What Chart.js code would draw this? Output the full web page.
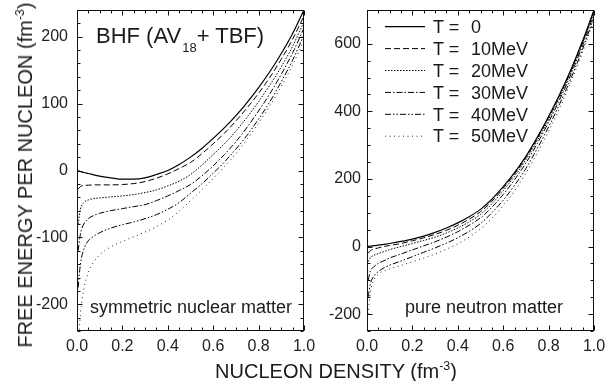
<!DOCTYPE html>
<html><head><meta charset="utf-8">
<script src="https://cdn.jsdelivr.net/npm/chart.js@4"></script>
<style>
html,body{margin:0;padding:0;background:#fff;}
#wrap{position:relative;width:606px;height:381px;overflow:hidden;font-family:"Liberation Sans",Arial,Helvetica,sans-serif;color:#1a1a1a;}
.cv{position:absolute;top:0;}
.t{position:absolute;white-space:nowrap;line-height:1;}
.sup{position:relative;font-size:0.62em;top:-0.62em;}
</style></head><body>
<div id="wrap">
<canvas id="c1" class="cv" style="left:0;width:322px;height:381px" width="322" height="381"></canvas>
<canvas id="c2" class="cv" style="left:309px;width:297px;height:381px" width="297" height="381"></canvas>
<div class="t" id="ytitle" style="font-size:20px;left:25px;top:175px;transform:translate(-50%,-50%) rotate(-90deg);">FREE ENERGY PER NUCLEON (fm<span class="sup">-3</span>)</div>
<div class="t" id="xtitle" style="font-size:20px;left:336px;top:361px;transform:translateX(-50%);">NUCLEON DENSITY (fm<span class="sup">-3</span>)</div>
<div class="t" style="font-size:22px;left:96px;top:24.5px;">BHF (AV<span style="position:relative;font-size:13px;top:9px;margin-left:1px;">18</span>+ TBF)</div>
<div class="t" style="font-size:18px;left:90px;top:298px;">symmetric nuclear matter</div>
<div class="t" style="font-size:18px;left:405px;top:298px;">pure neutron matter</div>
</div>
<script>
// ---- data ----
const density = [0, 0.005, 0.015, 0.03, 0.05, 0.075, 0.1, 0.15, 0.2, 0.25, 0.3, 0.35, 0.4, 0.45, 0.5, 0.55, 0.6, 0.65, 0.7, 0.75, 0.8, 0.85, 0.9, 0.95, 1.0];
const tempLabels = ["0", "10MeV", "20MeV", "30MeV", "40MeV", "50MeV"];

// symmetric nuclear matter
const symT0  = [0, -0.5, -1.5, -3, -4.5, -6.5, -8.5, -11, -13, -13, -11, -6, 0, 9, 20, 33, 48, 64, 82, 102, 124, 148, 175, 205, 240];
const symT10 = [null, -28, -24, -22.5, -22, -21.5, -21.5, -21.5, -21, -19.5, -16.5, -11.5, -5, 3, 12, 25, 40, 56, 74, 94, 115.5, 139.5, 166.5, 196.5, 231];
const symT20 = [null, -80, -58, -48, -44, -42, -41, -39.5, -38, -36, -33, -29, -23, -16, -6, 8, 24, 40, 59, 80, 103, 128, 155, 186, 222];
const symT30 = [null, -120, -95, -80, -72, -67, -64, -60, -57, -54, -51, -45, -38, -30, -21, -8, 7, 24, 43, 65, 89, 115, 144, 176, 213];
const symT40 = [null, -175, -140, -118, -105, -98, -93, -86, -81, -77, -72, -66, -58, -48, -34, -20, -4, 13, 32, 53, 77, 103, 133, 165, 203];
const symT50 = [null, -265, -215, -178, -152, -136, -126, -114, -106, -99, -92, -84, -74, -61, -45, -29, -12, 6, 25, 47, 71, 97, 126, 158, 195];

// pure neutron matter
const neuT0  = [0, 0.4, 1.2, 2.4, 4, 6.5, 9, 15, 22, 31, 42, 55, 70, 88, 110, 140, 177, 219, 267, 323, 385, 452, 526, 609, 700];
const neuT10 = [null, -20, -12, -8, -4, 0, 3, 9, 17, 26, 36, 48, 63, 81, 103, 134, 172, 214.5, 263, 319.5, 382, 449, 523, 606.5, 698];
const neuT20 = [null, -45, -33, -26, -21, -15, -9, 0, 9, 18, 28, 40, 55, 73, 95, 126.5, 165, 208, 257, 313.5, 376, 444, 519, 602.5, 694];
const neuT30 = [null, -100, -72, -60, -50, -42, -34, -22, -10, 2, 14, 28, 44, 63, 85, 116, 154, 197.5, 247, 304.5, 368, 436.5, 512, 596, 688];
const neuT40 = [null, -150, -110, -88, -74, -63, -55, -43, -30, -17, -4, 10, 26, 45, 68, 100, 137, 181, 231, 290, 354, 424, 500, 585, 679];
const neuT50 = [null, -200, -135, -100, -82, -72, -66, -56, -45, -34, -22, -8, 8, 28, 52, 83, 121, 165, 217, 276, 341, 412, 490, 576, 670];

// axes / ticks
const xTicks = [0, 0.2, 0.4, 0.6, 0.8, 1.0];
const symYTicks = [-200, -100, 0, 100, 200];
const neuYTicks = [-200, 0, 200, 400, 600];

// ---- styles ----
const FONT = '"Liberation Sans", Arial, Helvetica, sans-serif';
const lineStyles = [
  {dash: [], width: 1.2, color: '#000'},
  {dash: [6, 3], width: 1, color: '#000'},
  {dash: [1.5, 1.5], width: 1, color: '#000'},
  {dash: [6, 2, 1.5, 2], width: 1, color: '#000'},
  {dash: [6, 2, 1.5, 2, 1.5, 2], width: 1, color: '#000'},
  {dash: [1, 3.5], width: 1, color: '#222'}
];

function makeDatasets(series) {
  return series.map((vals, i) => ({
    label: 'T = ' + tempLabels[i],
    data: density.map((d, j) => ({x: d, y: vals[j]})),
    borderColor: lineStyles[i].color,
    borderWidth: lineStyles[i].width,
    borderDash: lineStyles[i].dash,
    pointRadius: 0,
    fill: false,
    cubicInterpolationMode: 'monotone',
    spanGaps: false
  }));
}

function framePlugin(yMinorStep, legend) {
  return {
    id: 'frame',
    afterDatasetsDraw(chart) {
      const {ctx, chartArea: a, scales: {x, y}} = chart;
      ctx.save();
      ctx.strokeStyle = '#111';
      ctx.lineWidth = 1;
      ctx.setLineDash([]);
      const L = Math.round(a.left) + 0.5, R = Math.round(a.right) - 0.5;
      const T = Math.round(a.top) + 0.5, B = Math.round(a.bottom) - 0.5;
      ctx.strokeRect(L, T, R - L, B - T);
      const seg = (x1, y1, x2, y2) => { ctx.beginPath(); ctx.moveTo(x1, y1); ctx.lineTo(x2, y2); ctx.stroke(); };
      for (let k = 0; k <= 20; k++) {
        const v = k * 0.05;
        const isMajor = xTicks.some(t => Math.abs(t - v) < 1e-9);
        const len = isMajor ? 5 : 3;
        const px = Math.round(x.getPixelForValue(v)) + 0.5;
        seg(px, B, px, B - len);
        seg(px, T, px, T + len);
      }
      const yt = chart.options.scales.y.majorTicks;
      const kMin = Math.ceil(y.min / yMinorStep), kMax = Math.floor(y.max / yMinorStep);
      for (let k = kMin; k <= kMax; k++) {
        const v = k * yMinorStep;
        const isMajor = yt.includes(v);
        const len = isMajor ? 5 : 3;
        const py = Math.round(y.getPixelForValue(v)) + 0.5;
        seg(L, py, L + len, py);
        seg(R, py, R - len, py);
      }
      if (legend) {
        chart.data.datasets.forEach((ds, i) => {
          const yy = legend.y0 + i * legend.dy;
          ctx.strokeStyle = ds.borderColor;
          ctx.lineWidth = ds.borderWidth;
          ctx.setLineDash(ds.borderDash);
          seg(legend.x1, yy, legend.x2, yy);
        });
      }
      ctx.restore();
    }
  };
}

function makeChart(id, series, yMin, yMax, yTicks, yMinorStep, yWidth, padRight, yPad, legend) {
  return new Chart(document.getElementById(id), {
    type: 'line',
    data: {datasets: makeDatasets(series)},
    options: {
      responsive: false, animation: false, devicePixelRatio: 1,
      layout: {padding: {top: 10, right: padRight, bottom: 0, left: 0}},
      plugins: {legend: {display: false}, tooltip: {enabled: false}},
      elements: {line: {tension: 0}},
      scales: {
        x: {
          type: 'linear', min: 0, max: 1,
          grid: {display: false, drawTicks: false}, border: {display: false},
          afterBuildTicks: s => { s.ticks = xTicks.map(v => ({value: v})); },
          afterFit: s => { s.height = 50; s.paddingLeft = 0; s.paddingRight = 0; },
          ticks: {font: {family: FONT, size: 16}, color: '#222', padding: 6, maxRotation: 0, autoSkip: false,
                  callback: v => Number(v).toFixed(1)}
        },
        y: {
          type: 'linear', min: yMin, max: yMax, majorTicks: yTicks,
          grid: {display: false, drawTicks: false}, border: {display: false},
          afterBuildTicks: s => { s.ticks = yTicks.map(v => ({value: v})); },
          afterFit: s => { s.width = yWidth; s.paddingTop = 0; s.paddingBottom = 0; },
          ticks: {font: {family: FONT, size: 16}, color: '#222', padding: yPad, autoSkip: false,
                  callback: v => String(v)}
        }
      }
    },
    plugins: [framePlugin(yMinorStep, legend)]
  });
}

makeChart('c1', [symT0, symT10, symT20, symT30, symT40, symT50], -240, 240, symYTicks, 20, 77, 18, 9, null);
const legendPos = {x1: 385 - 309, x2: 425 - 309, y0: 26.7, dy: 21.9};
makeChart('c2', [neuT0, neuT10, neuT20, neuT30, neuT40, neuT50], -250, 700, neuYTicks, 50, 58, 12, 6, legendPos);

// legend text
const wrap = document.getElementById('wrap');
tempLabels.forEach((lab, i) => {
  const yy = legendPos.y0 + i * legendPos.dy;
  const top = yy + 0.358 * 18 - 0.8465 * 18;
  const a = document.createElement('div');
  a.className = 't'; a.style.fontSize = '18px'; a.style.left = '433px'; a.style.top = top + 'px';
  a.textContent = 'T =';
  wrap.appendChild(a);
  const b = document.createElement('div');
  b.className = 't'; b.style.fontSize = '18px'; b.style.left = '471px'; b.style.top = top + 'px';
  b.textContent = lab;
  wrap.appendChild(b);
});
</script>
</body></html>
